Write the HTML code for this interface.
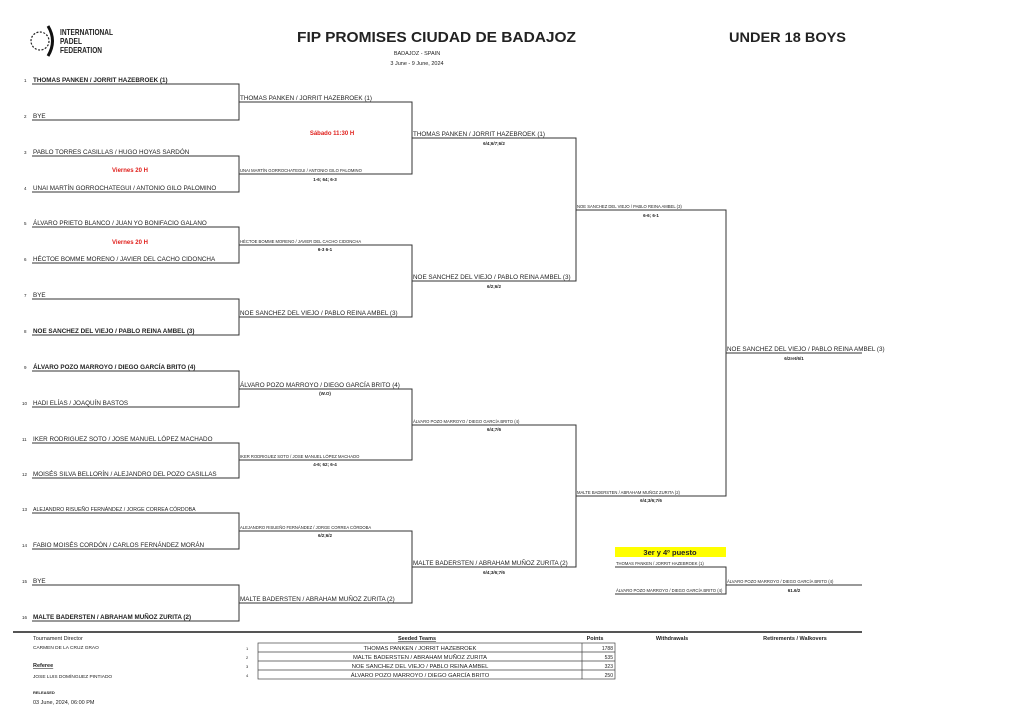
<!DOCTYPE html>
<html><head><meta charset="utf-8"><style>
html,body{margin:0;padding:0;background:#fff;width:1024px;height:724px;overflow:hidden}
svg{display:block}
text{font-family:"Liberation Sans",sans-serif;fill:#222}
.n{font-size:6.3px}
.s{font-size:4.2px}
.b{font-weight:bold}
.sc{font-size:4.5px;font-weight:bold;text-anchor:middle}
.r{fill:#e0201c;font-weight:bold;font-size:6px;text-anchor:middle}
</style></head><body>
<svg width="1024" height="724" viewBox="0 0 1024 724" xmlns="http://www.w3.org/2000/svg">
<g stroke="#333" stroke-width="1" fill="none">
<path d="M32 84H239V120H32"/><path d="M32 156H239V192H32"/><path d="M32 227H239V263H32"/><path d="M32 299H239V335H32"/>
<path d="M32 371H239V407H32"/><path d="M32 443H239V478H32"/><path d="M32 513H239V549H32"/><path d="M32 585H239V621H32"/>
<path d="M239 102H412V174H239"/><path d="M239 245H412V317H239"/><path d="M239 389H412V460H239"/><path d="M239 531H412V603H239"/>
<path d="M412 138H576V281H412"/><path d="M412 425H576V567H412"/>
<path d="M576 210H726V496H576"/>
<path d="M726 353H862"/>
<path d="M615 567H726V594H615"/><path d="M726 585H862"/>
</g>
<rect x="615" y="547" width="111" height="10" fill="#ffff00"/>
<text x="670" y="555" class="b" font-size="7.5" text-anchor="middle">3er y 4º puesto</text>
<circle cx="40" cy="41" r="9" fill="none" stroke="#222" stroke-width="1.2" stroke-dasharray="2 1.5"/>
<path d="M48 26Q57 41 48 56" stroke="#111" stroke-width="3" fill="none"/>
<text x="60" y="35" class="b" font-size="8.5" textLength="53" lengthAdjust="spacingAndGlyphs">INTERNATIONAL</text>
<text x="60" y="44" class="b" font-size="8.5" textLength="22" lengthAdjust="spacingAndGlyphs">PADEL</text>
<text x="60" y="53" class="b" font-size="8.5" textLength="42" lengthAdjust="spacingAndGlyphs">FEDERATION</text>
<text x="297" y="42" class="b" font-size="15" textLength="279" lengthAdjust="spacingAndGlyphs">FIP PROMISES CIUDAD DE BADAJOZ</text>
<text x="729" y="42" class="b" font-size="13.5" textLength="117" lengthAdjust="spacingAndGlyphs">UNDER 18 BOYS</text>
<text x="417" y="55" font-size="5.5" text-anchor="middle">BADAJOZ - SPAIN</text>
<text x="417" y="65" font-size="5.5" text-anchor="middle">3 June - 9 June, 2024</text>
<g class="n">
<text x="24" y="82" font-size="4.5">1</text><text x="33" y="82" class="b">THOMAS PANKEN / JORRIT HAZEBROEK (1)</text>
<text x="24" y="118" font-size="4.5">2</text><text x="33" y="118">BYE</text>
<text x="24" y="154" font-size="4.5">3</text><text x="33" y="154">PABLO TORRES CASILLAS / HUGO HOYAS SARDÓN</text>
<text x="24" y="190" font-size="4.5">4</text><text x="33" y="190">UNAI MARTÍN GORROCHATEGUI / ANTONIO GILO PALOMINO</text>
<text x="24" y="225" font-size="4.5">5</text><text x="33" y="225">ÁLVARO PRIETO BLANCO / JUAN YO BONIFACIO GALANO</text>
<text x="24" y="261" font-size="4.5">6</text><text x="33" y="261">HÉCTOE BOMME MORENO / JAVIER DEL CACHO CIDONCHA</text>
<text x="24" y="297" font-size="4.5">7</text><text x="33" y="297">BYE</text>
<text x="24" y="333" font-size="4.5">8</text><text x="33" y="333" class="b">NOE SANCHEZ DEL VIEJO / PABLO REINA AMBEL (3)</text>
<text x="24" y="369" font-size="4.5">9</text><text x="33" y="369" class="b">ÁLVARO POZO MARROYO / DIEGO GARCÍA BRITO (4)</text>
<text x="22" y="405" font-size="4.5">10</text><text x="33" y="405">HADI ELÍAS / JOAQUÍN BASTOS</text>
<text x="22" y="441" font-size="4.5">11</text><text x="33" y="441">IKER RODRIGUEZ SOTO / JOSE MANUEL LÓPEZ MACHADO</text>
<text x="22" y="476" font-size="4.5">12</text><text x="33" y="476">MOISÉS SILVA BELLORÍN / ALEJANDRO DEL POZO CASILLAS</text>
<text x="22" y="511" font-size="4.5">13</text><text x="33" y="511" font-size="5.2">ALEJANDRO RISUEÑO FERNÁNDEZ / JORGE CORREA CÓRDOBA</text>
<text x="22" y="547" font-size="4.5">14</text><text x="33" y="547">FABIO MOISÉS CORDÓN / CARLOS FERNÁNDEZ MORÁN</text>
<text x="22" y="583" font-size="4.5">15</text><text x="33" y="583">BYE</text>
<text x="22" y="619" font-size="4.5">16</text><text x="33" y="619" class="b">MALTE BADERSTEN / ABRAHAM MUÑOZ ZURITA (2)</text>
</g>
<text x="130" y="172" class="r">Viernes 20 H</text>
<text x="130" y="244" class="r">Viernes 20 H</text>
<text x="332" y="135" class="r">Sábado 11:30 H</text>
<text x="240" y="100" class="n">THOMAS PANKEN / JORRIT HAZEBROEK (1)</text>
<text x="240" y="172" class="s">UNAI MARTÍN GORROCHATEGUI / ANTONIO GILO PALOMINO</text><text x="325" y="181" class="sc">1-6; 64; 6-3</text>
<text x="240" y="243" class="s">HÉCTOE BOMME MORENO / JAVIER DEL CACHO CIDONCHA</text><text x="325" y="251" class="sc">6-3 6-1</text>
<text x="240" y="315" class="n">NOE SANCHEZ DEL VIEJO / PABLO REINA AMBEL (3)</text>
<text x="240" y="387" class="n">ÁLVARO POZO MARROYO / DIEGO GARCÍA BRITO (4)</text><text x="325" y="395" class="sc">(W.O)</text>
<text x="240" y="458" class="s">IKER RODRIGUEZ SOTO / JOSE MANUEL LÓPEZ MACHADO</text><text x="325" y="466" class="sc">4-6; 62; 6-4</text>
<text x="240" y="529" class="s">ALEJANDRO RISUEÑO FERNÁNDEZ / JORGE CORREA CÓRDOBA</text><text x="325" y="537" class="sc">6/2;6/2</text>
<text x="240" y="601" class="n">MALTE BADERSTEN / ABRAHAM MUÑOZ ZURITA (2)</text>
<text x="413" y="136" class="n" font-size="5.6">THOMAS PANKEN / JORRIT HAZEBROEK (1)</text><text x="494" y="145" class="sc">6/4;6/7;6/2</text>
<text x="413" y="279" class="n" font-size="5.6">NOE SANCHEZ DEL VIEJO / PABLO REINA AMBEL (3)</text><text x="494" y="288" class="sc">6/2;6/2</text>
<text x="413" y="423" class="s">ÁLVARO POZO MARROYO / DIEGO GARCÍA BRITO (4)</text><text x="494" y="431" class="sc">6/4;7/6</text>
<text x="413" y="565" class="n" font-size="5.6">MALTE BADERSTEN / ABRAHAM MUÑOZ ZURITA (2)</text><text x="494" y="574" class="sc">6/4;3/6;7/6</text>
<text x="577" y="208" class="s">NOE SANCHEZ DEL VIEJO / PABLO REINA AMBEL (3)</text><text x="651" y="217" class="sc" font-weight="normal">6-6; 6-1</text>
<text x="577" y="494" class="s">MALTE BADERSTEN / ABRAHAM MUÑOZ ZURITA (2)</text><text x="651" y="502" class="sc">6/4;3/6;7/6</text>
<text x="727" y="351" class="n">NOE SANCHEZ DEL VIEJO / PABLO REINA AMBEL (3)</text><text x="794" y="360" class="sc" font-weight="normal">6/2ret/6/1</text>
<text x="616" y="565" class="s">THOMAS PANKEN / JORRIT HAZEBROEK (1)</text>
<text x="616" y="592" class="s">ÁLVARO POZO MARROYO / DIEGO GARCÍA BRITO (4)</text>
<text x="727" y="583" class="s">ÁLVARO POZO MARROYO / DIEGO GARCÍA BRITO (4)</text><text x="794" y="592" class="sc" font-weight="normal">61.6/2</text>
<rect x="13" y="631" width="849" height="2" fill="#555"/>
<text x="33" y="640" font-size="5.5">Tournament Director</text>
<text x="33" y="649" font-size="4.8">CARMEN DE LA CRUZ GRAO</text>
<text x="33" y="667" font-size="5.5" class="b" text-decoration="underline">Referee</text>
<text x="33" y="678" font-size="4.8">JOSE LUIS DOMÍNGUEZ PINTIADO</text>
<text x="33" y="694" font-size="4" class="b">RELEASED</text>
<text x="33" y="704" font-size="5.5">03 June, 2024, 06:00 PM</text>
<text x="417" y="640" font-size="5.5" class="b" text-anchor="middle" text-decoration="underline">Seeded Teams</text>
<text x="595" y="640" font-size="5.5" class="b" text-anchor="middle">Points</text>
<text x="672" y="640" font-size="5.5" class="b" text-anchor="middle">Withdrawals</text>
<text x="795" y="640" font-size="5.5" class="b" text-anchor="middle">Retirements / Walkovers</text>
<g stroke="#444" stroke-width="0.7" fill="none">
<rect x="258" y="643" width="357" height="36"/>
<path d="M258 652H615M258 661H615M258 670H615M582 643V679"/>
</g>
<g font-size="5.8" text-anchor="middle">
<text x="420" y="650">THOMAS PANKEN / JORRIT HAZEBROEK</text>
<text x="420" y="659">MALTE BADERSTEN / ABRAHAM MUÑOZ ZURITA</text>
<text x="420" y="668">NOE SANCHEZ DEL VIEJO / PABLO REINA AMBEL</text>
<text x="420" y="677">ÁLVARO POZO MARROYO / DIEGO GARCÍA BRITO</text>
</g>
<g font-size="5" text-anchor="end">
<text x="613" y="650">1788</text><text x="613" y="659">535</text><text x="613" y="668">323</text><text x="613" y="677">250</text>
</g>
<g font-size="4">
<text x="246" y="650">1</text><text x="246" y="659">2</text><text x="246" y="668">3</text><text x="246" y="677">4</text>
</g>
</svg>
</body></html>
